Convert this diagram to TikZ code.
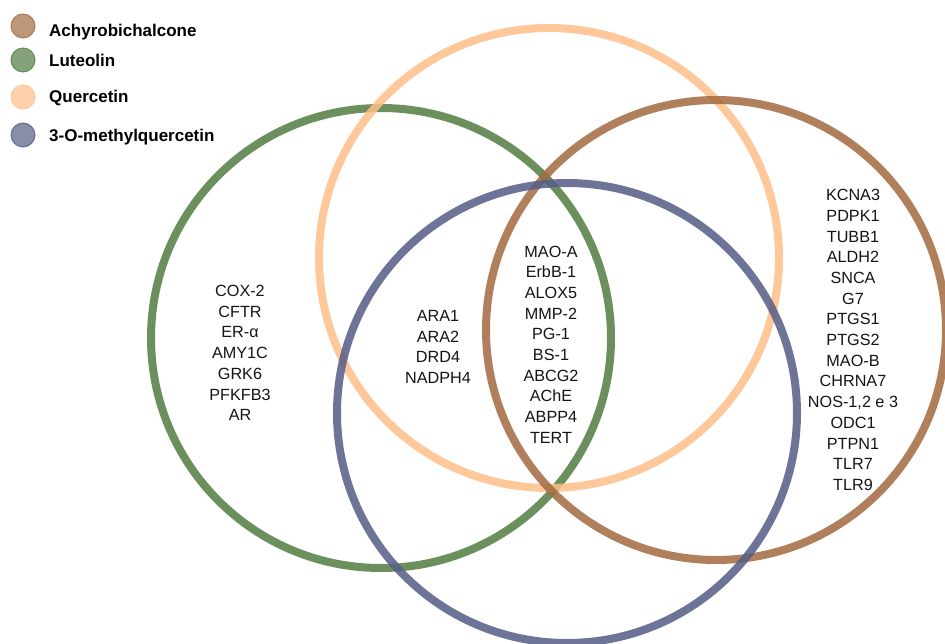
\documentclass[tikz,border=0pt]{standalone}
\usepackage{fontspec}
\setmainfont{Liberation Sans}
\definecolor{cgreen}{RGB}{81,124,66}
\definecolor{corange}{RGB}{255,190,137}
\definecolor{cbrown}{RGB}{162,106,63}
\definecolor{cblue}{RGB}{85,92,134}
\begin{document}
\begin{tikzpicture}[x=1pt,y=-1pt,
  venn/.style={circle, minimum size=460pt, inner sep=0pt, line width=8pt, draw opacity=0.85},
  lbl/.style={align=center, font=\fontsize{16.2}{20.7}\selectfont, inner sep=0pt, text=black!92},
  legdot/.style={circle, minimum size=24pt, inner sep=0pt, line width=1pt, fill opacity=0.7, draw opacity=0.8},
  legtxt/.style={anchor=base west, font=\fontsize{17}{20}\selectfont\bfseries, inner sep=0pt, text=black}]
\useasboundingbox (0,0) rectangle (945,644);
% Venn circles
\node[venn, draw=cgreen]  (lut) at (381,338) {};
\node[venn, draw=corange] (que) at (549,258) {};
\node[venn, draw=cbrown]  (ach) at (716,330) {};
\node[venn, draw=cblue]   (met) at (567,413) {};
% legend
\node[legdot, fill=cbrown, draw=cbrown]   (d1) at (23,26) {};
\node[legdot, fill=cgreen, draw=cgreen]   (d2) at (23,60) {};
\node[legdot, fill=corange, draw=corange] (d3) at (23,97) {};
\node[legdot, fill=cblue, draw=cblue]     (d4) at (23,135) {};
\node[legtxt] (t1) at (49,36.7) {Achyrobichalcone};
\node[legtxt] (t2) at (49,66.7) {Luteolin};
\node[legtxt] (t3) at (49,102.5) {Quercetin};
\node[legtxt] (t4) at (49,141.5) {3-O-methylquercetin};
% region labels
\node[lbl] (gl) at (240,353) {COX-2\\CFTR\\ER-α\\AMY1C\\GRK6\\PFKFB3\\AR};
\node[lbl] (gm) at (438,347) {ARA1\\ARA2\\DRD4\\NADPH4};
\node[lbl] (gc) at (551,344.5) {MAO-A\\ErbB-1\\ALOX5\\MMP-2\\PG-1\\BS-1\\ABCG2\\AChE\\ABPP4\\TERT};
\node[lbl] (gr) at (853,340) {KCNA3\\PDPK1\\TUBB1\\ALDH2\\SNCA\\G7\\PTGS1\\PTGS2\\MAO-B\\CHRNA7\\NOS-1,2 e 3\\ODC1\\PTPN1\\TLR7\\TLR9};
\end{tikzpicture}
\end{document}
